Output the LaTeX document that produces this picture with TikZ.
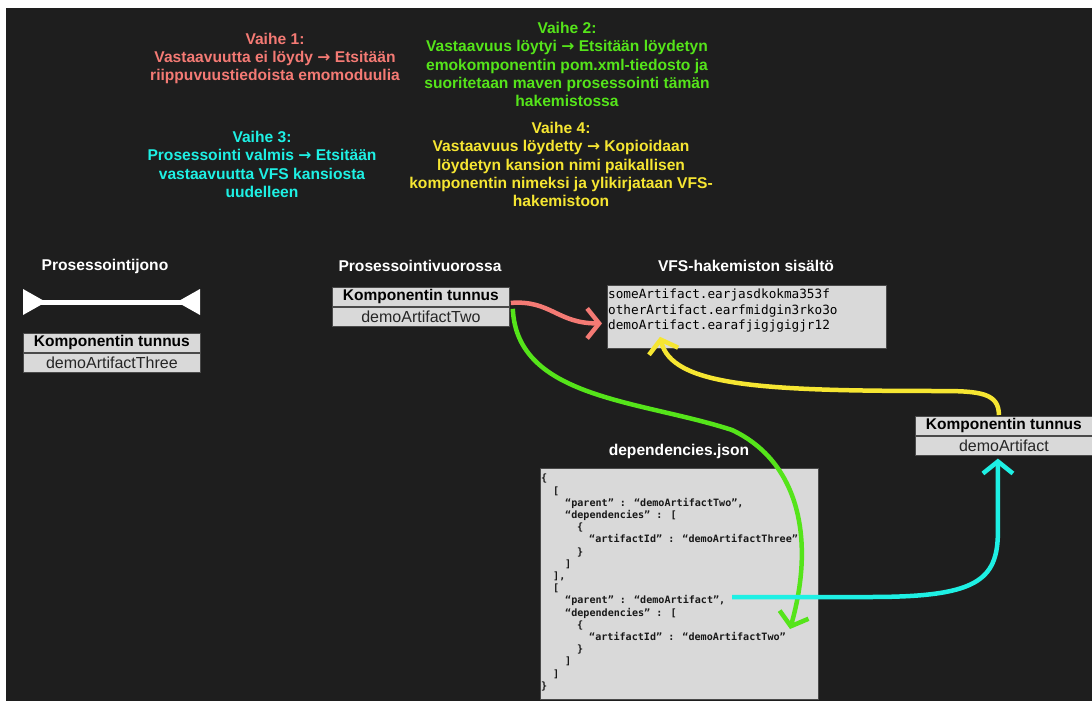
\documentclass[tikz,border=0pt]{standalone}
\usepackage{fontspec}
\setmainfont{Liberation Sans}
\newfontfamily\monofont{DejaVu Sans Mono}
\newfontfamily\symfont{DejaVu Sans}
\usetikzlibrary{arrows.meta,calc}

\definecolor{bgdark}{HTML}{1E1E1E}
\definecolor{salmon}{HTML}{F47A74}
\definecolor{limeg}{HTML}{55E41A}
\definecolor{aqua}{HTML}{1EF0E4}
\definecolor{sun}{HTML}{F6E632}
\definecolor{cellgray}{HTML}{D9D9D9}
\definecolor{edgegray}{HTML}{4A4A4A}

\newcommand{\ra}{{\symfont →}}

\tikzset{
  stepnote/.style={align=center, inner sep=0pt,
    font=\bfseries\fontsize{15.6}{18.3}\selectfont},
  sectionlabel/.style={inner sep=0pt, text=white,
    font=\bfseries\fontsize{15.6}{18}\selectfont},
  cellhead/.style={draw=edgegray, line width=0.8pt, fill=cellgray,
    minimum width=177pt, minimum height=19pt, inner sep=0pt,
    text=black, font=\bfseries\fontsize{15.5}{16}\selectfont},
  cellvalue/.style={cellhead, text=black!85, font=\fontsize{16}{16}\selectfont},
  panel/.style={draw=edgegray, line width=0.8pt, fill=cellgray, inner sep=0pt},
  flow/.style={line width=4.5pt, -{Straight Barb[length=12pt,width=30pt]}},
}

\begin{document}
\begin{tikzpicture}[x=1pt, y=-1pt]
  % page and dark canvas
  \useasboundingbox (0,0) rectangle (1092,701);
  \fill[white] (0,0) rectangle (1092,701);
  \fill[bgdark] (6,8) rectangle (1092,701);

  % step descriptions
  \node[stepnote, text=salmon] (s1) at (275,58.5)
    {Vaihe 1:\\Vastaavuutta ei löydy \ra{} Etsitään\\riippuvuustiedoista emomoduulia};
  \node[stepnote, text=limeg] (s2) at (567,64.5)
    {Vaihe 2:\\Vastaavuus löytyi \ra{} Etsitään löydetyn\\emokomponentin pom.xml-tiedosto ja\\suoritetaan maven prosessointi tämän\\hakemistossa};
  \node[stepnote, text=aqua] (s3) at (262,164.5)
    {Vaihe 3:\\Prosessointi valmis \ra{} Etsitään\\vastaavuutta VFS kansiosta\\uudelleen};
  \node[stepnote, text=sun] (s4) at (561,164.5)
    {Vaihe 4:\\Vastaavuus löydetty \ra{} Kopioidaan\\löydetyn kansion nimi paikallisen\\komponentin nimeksi ja ylikirjataan VFS-\\hakemistoon};

  % section titles
  \node[sectionlabel] (qlabel) at (105,266) {Prosessointijono};
  \node[sectionlabel] (curlabel) at (420,266) {Prosessointivuorossa};
  \node[sectionlabel] (vfslabel) at (746,266) {VFS-hakemiston sisältö};
  \node[sectionlabel] (jsonlabel) at (679,451) {dependencies.json};

  % queue symbol
  \coordinate (qleft) at (23,302);
  \coordinate (qright) at (200,302);
  \draw[white, line width=5pt] (qleft) -- (qright);
  \fill[white] (23,289) -- (46,302) -- (23,315) -- cycle;
  \fill[white] (200,289) -- (177,302) -- (200,315) -- cycle;

  % component tables
  \node[cellhead, anchor=north west] (qh) at (23,333) {Komponentin tunnus};
  \node[cellvalue, anchor=north] (qv) at (qh.south) {demoArtifactThree};

  \node[cellhead, anchor=north west] (midh) at (332,287) {Komponentin tunnus};
  \node[cellvalue, anchor=north] (midv) at (midh.south) {demoArtifactTwo};

  \node[cellhead, anchor=north west] (rth) at (915,416) {Komponentin tunnus};
  \node[cellvalue, anchor=north] (rtv) at (rth.south) {demoArtifact};

  % VFS directory listing
  \node[panel, minimum width=279pt, minimum height=63pt, anchor=north west] (vfs) at (607,285) {};
  \node[anchor=north west, inner sep=0pt, align=left, text=black,
        font=\monofont\fontsize{12.7}{15.4}\selectfont] (vfstext) at (608,289)
    {someArtifact.earjasdkokma353f\\otherArtifact.earfmidgin3rko3o\\demoArtifact.earafjigjgigjr12};

  % dependencies.json contents
  \node[panel, minimum width=278pt, minimum height=231pt, anchor=north west] (json) at (540,468) {};
  \node[anchor=north west, inner sep=0pt, align=left, text=black!90,
        font=\monofont\bfseries\fontsize{10.1}{12.2}\selectfont] (jsontext) at (541,474)
    {\{\\
     \hspace*{12pt}[\\
     \hspace*{24pt}“parent” : “demoArtifactTwo”,\\
     \hspace*{24pt}“dependencies” : [\\
     \hspace*{36pt}\{\\
     \hspace*{48pt}“artifactId” : “demoArtifactThree”\\
     \hspace*{36pt}\}\\
     \hspace*{24pt}]\\
     \hspace*{12pt}],\\
     \hspace*{12pt}[\\
     \hspace*{24pt}“parent” : “demoArtifact”,\\
     \hspace*{24pt}“dependencies” : [\\
     \hspace*{36pt}\{\\
     \hspace*{48pt}“artifactId” : “demoArtifactTwo”\\
     \hspace*{36pt}\}\\
     \hspace*{24pt}]\\
     \hspace*{12pt}]\\
     \}};

  % connector waypoints
  \coordinate (gbend) at (732,430);
  \coordinate (gtip) at (790,629);
  \coordinate (ybend) at (940,391);
  \coordinate (cstart) at (732,597);

  % step 1: look up the VFS directory
  \draw[flow, salmon] ($(midh.east)+(1,6)$) .. controls +(40,-3) and +(-45,0) .. ($(vfs.west)+(-5,6.5)$);
  % step 2: find the parent in dependencies.json
  \draw[flow, limeg] ($(midv.north east)+(3,2)$) .. controls +(4,90) and +(-92,-30) .. (gbend)
    .. controls +(68,32) and +(25,-88) .. (gtip);
  % step 3: parent processed, back to the component
  \draw[flow, aqua] (cstart) -- ++(138,0) .. controls +(105,0) and +(0,50) .. ($(rtv.south)+(-6,76)$)
    -- ($(rtv.south)+(-6,3)$);
  % step 4: write the result into the VFS directory
  \draw[flow, sun] ($(rth.north)+(-5,-1)$) .. controls +(0,-22) and +(40,0) .. (ybend)
    .. controls +(-180,0) and +(12,49) .. ($(vfs.south west)+(53,-12)$);
\end{tikzpicture}
\end{document}
